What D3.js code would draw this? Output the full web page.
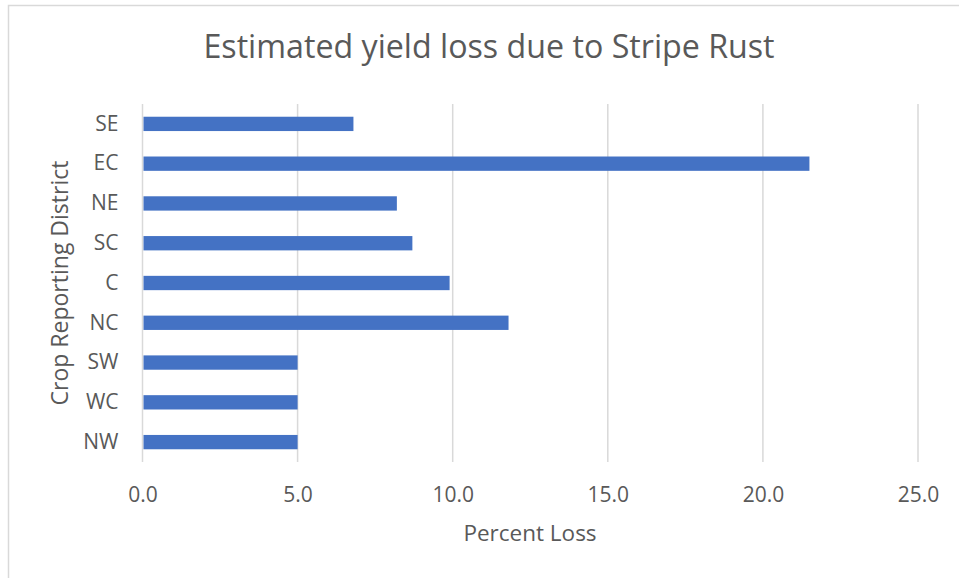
<!DOCTYPE html>
<html>
<head>
<meta charset="utf-8">
<script src="https://cdn.jsdelivr.net/npm/d3@7"></script>
<style>
  body { margin: 0; background: #fff; }
  text { font-family: "Open Sans", sans-serif; fill: #595959; }
</style>
</head>
<body>
<div id="chart"></div>
<script>
// districts, top to bottom as drawn
var districts = ["SE", "EC", "NE", "SC", "C", "NC", "SW", "WC", "NW"];
var loss = [6.8, 21.5, 8.2, 8.7, 9.9, 11.8, 5.0, 5.0, 5.0];
var xTicks = [0, 5, 10, 15, 20, 25];

var W = 959, H = 578;
var margin = {top: 104, right: 41, bottom: 116, left: 142.5},
    width = W - margin.left - margin.right,
    height = H - margin.top - margin.bottom;

var svg = d3.select("#chart")
  .append("svg")
    .attr("width", W)
    .attr("height", H);

// chart area border
svg.append("rect")
  .attr("x", 8.5).attr("y", 5.5)
  .attr("width", W + 10).attr("height", H + 10)
  .attr("fill", "none")
  .attr("stroke", "#d9d9d9")
  .attr("stroke-width", 1.5);

var g = svg.append("g")
  .attr("transform", "translate(" + margin.left + "," + margin.top + ")");

var x = d3.scaleLinear()
  .domain([0, 25])
  .range([0, width]);

var y = d3.scaleBand()
  .domain(districts)
  .range([0, height])
  .padding(0);

// gridlines
g.selectAll(".grid")
  .data(xTicks)
  .enter()
  .append("line")
    .attr("x1", d => x(d)).attr("x2", d => x(d))
    .attr("y1", 0).attr("y2", height)
    .attr("stroke", "#d9d9d9")
    .attr("stroke-width", 1.5);

// bars
var barH = y.bandwidth() * 0.36;
g.selectAll(".bar")
  .data(districts)
  .enter()
  .append("rect")
    .attr("x", x(0) + 1)
    .attr("y", d => y(d) + (y.bandwidth() - barH) / 2)
    .attr("width", (d, i) => x(loss[i]) - x(0) - 1)
    .attr("height", barH)
    .attr("fill", "#4472C4");

// x tick labels
var xAxis = g.append("g")
  .attr("transform", "translate(0," + height + ")")
  .call(d3.axisBottom(x).tickValues(xTicks).tickFormat(d3.format(".1f")).tickSize(0).tickPadding(0));
xAxis.select(".domain").remove();
xAxis.selectAll("text")
  .attr("dy", null)
  .attr("y", 40)
  .style("font-size", "21px")
  .style("font-family", "'Open Sans', sans-serif")
  .attr("fill", "#595959");

// y tick labels
var yAxis = g.append("g")
  .call(d3.axisLeft(y).tickSize(0).tickPadding(24));
yAxis.select(".domain").remove();
yAxis.selectAll("text")
  .style("font-size", "21px")
  .style("font-family", "'Open Sans', sans-serif")
  .attr("fill", "#595959");

// title
svg.append("text")
  .attr("x", 489)
  .attr("y", 58)
  .attr("text-anchor", "middle")
  .style("font-size", "32.2px")
  .text("Estimated yield loss due to Stripe Rust");

// axis titles
svg.append("text")
  .attr("x", 530)
  .attr("y", 541)
  .attr("text-anchor", "middle")
  .style("font-size", "22.5px")
  .text("Percent Loss");

svg.append("text")
  .attr("transform", "translate(68,283) rotate(-90)")
  .attr("text-anchor", "middle")
  .style("font-size", "23px")
  .text("Crop Reporting District");
</script>
</body>
</html>
